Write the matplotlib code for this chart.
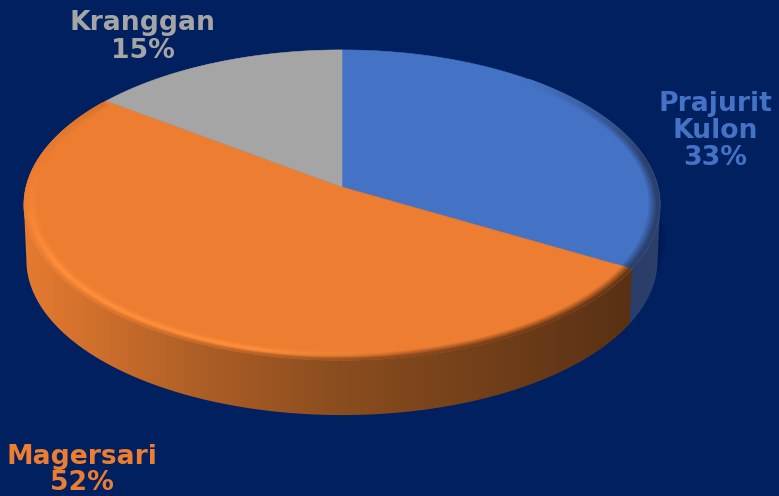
import numpy as np
import matplotlib
matplotlib.use('Agg')
import matplotlib.pyplot as plt
from matplotlib.patches import Polygon
from matplotlib.collections import LineCollection
from matplotlib.colors import to_rgb

categorias = ['Prajurit\nKulon', 'Magersari', 'Kranggan']
valores = [33.4, 51.9, 14.7]
cores = ['#4472C4', '#ED7D31', '#A5A5A5']
fundo = '#002060'

# posicao dos rotulos em pixels
pos_rotulos = [(715, 131), (82, 470), (143, 37)]

# geometria da pizza em pixels
cx, cy = 342, 187
A, B, k = 316, 153, 0.116
altura = 55


def projeta(theta, r=1.0, z=0.0):
    u = np.sin(theta) * r
    v = np.cos(theta) * r
    w = 1 + k * v
    esc = 1 - 0.008 * z / altura
    return cx + A * u / w * esc, cy - B * v / w + z


def mistura(c1, c2, t):
    t = np.asarray(np.clip(t, 0, 1))[..., None]
    return np.asarray(c1) * (1 - t) + np.asarray(c2) * t


def lateral(ax, t0, t1, xs, cs, zorder):
    # lateral com gradiente horizontal recortado pelo contorno
    t = np.linspace(t0, t1, 200)
    x1, y1 = projeta(t)
    x2, y2 = projeta(t[::-1], 1, altura)
    contorno = Polygon(np.c_[np.r_[x1, x2], np.r_[y1, y2]], closed=True,
                       transform=ax.transData, facecolor='none', edgecolor='none')
    ax.add_patch(contorno)
    grade = np.arange(779)
    img = np.stack([np.interp(grade, xs, [c[i] for c in cs]) for i in range(3)], axis=-1)[None, :, :]
    im = ax.imshow(img, extent=(0, 779, 496, 0), aspect='auto', zorder=zorder, interpolation='bilinear')
    im.set_clip_path(contorno)


def anel(ax, t0, t1, funcao_cor, r_min=0.95, passos=16, zorder=4):
    # chanfro: aneis finos do lado de fora para dentro
    ts = np.linspace(t0, t1, 300)
    for j in range(passos, -1, -1):
        s = j / passos
        r = 0.997 - (0.997 - r_min) * s
        x, y = projeta(ts, r)
        pts = np.c_[x, y]
        segs = np.stack([pts[:-1], pts[1:]], axis=1)
        tm = (ts[:-1] + ts[1:]) / 2
        xm = (x[:-1] + x[1:]) / 2
        ax.add_collection(LineCollection(segs, colors=funcao_cor(tm, xm, s), linewidths=1.6,
                                         capstyle='butt', zorder=zorder))


fig = plt.figure(figsize=(7.79, 4.96), dpi=100, facecolor=fundo)
ax = fig.add_axes([0, 0, 1, 1])

total = sum(valores)
limites = np.cumsum([0] + valores) / total * 2 * np.pi

# angulo onde o aro toca o extremo direito (o esquerdo e o espelho)
extremo = np.arccos(-k)

# sombra bem fraca, deslocada para a direita e para baixo
ts = np.linspace(0, 2 * np.pi, 200)
for desl, alfa in [(7, 0.04), (5, 0.05), (3, 0.06)]:
    x, y = projeta(ts, 1.0, altura * 0.6)
    ax.add_patch(Polygon(np.c_[x + desl, y + desl * 0.4], closed=True, facecolor='black', alpha=alfa,
                         edgecolor='none', zorder=1))

# laterais
lateral(ax, extremo, limites[1] + 0.02, [560, 660],
        [(0.15, 0.22, 0.39), (0.17, 0.25, 0.42)], 2)
lateral(ax, limites[1], 2 * np.pi - extremo, [25, 200, 342, 480, 630],
        [(0.90, 0.48, 0.19), (0.68, 0.37, 0.15), (0.54, 0.30, 0.12), (0.45, 0.25, 0.10), (0.35, 0.19, 0.08)], 2.5)

# topo das fatias
for i in range(len(valores)):
    t = np.linspace(limites[i], limites[i + 1], 300)
    x, y = projeta(t)
    pts = np.r_[[(cx, cy)], np.c_[x, y]]
    ax.add_patch(Polygon(pts, closed=True, facecolor=cores[i], edgecolor=cores[i],
                         linewidth=0.4, zorder=3))

azul = np.array(to_rgb(cores[0]))
laranja = np.array(to_rgb(cores[1]))


def chanfro_azul(t, x, s):
    forca = np.clip((t - 0.7) / 0.7, 0, 1) * np.clip((1 - s) * 1.15, 0, 1)
    return mistura(azul, (0.17, 0.25, 0.42), forca)


def chanfro_laranja(t, x, s):
    # borda puxa para a cor da lateral, com brilho do lado esquerdo
    base = np.interp(x, [25, 342, 630], [1.0, 0.62, 0.42])
    borda = laranja[None, :] * base[:, None]
    brilho = np.clip((4.9 - t) / 0.7, 0, 1) * np.clip((t - 2.9) / 0.5, 0, 1)
    forte = np.array([1.0, 0.56, 0.23])
    perfil = np.exp(-((s - 0.4) / 0.3) ** 2) * brilho
    fade = np.clip(s / 0.6, 0, 1)
    cor = mistura(borda, laranja, np.full_like(x, fade))
    return mistura(cor, forte, perfil)


anel(ax, 0.7, limites[1], chanfro_azul, r_min=0.965, zorder=3.5)
anel(ax, limites[1], limites[2] - 0.02, chanfro_laranja)

# rotulos
for nome, valor, cor, pos in zip(categorias, valores, cores, pos_rotulos):
    ax.text(pos[0], pos[1], f'{nome}\n{round(valor)}%', color=cor, fontsize=19.2, fontweight='bold',
            family='DejaVu Sans', ha='center', va='center', linespacing=1.05, zorder=5)

ax.set_xlim(0, 779)
ax.set_ylim(496, 0)
ax.axis('off')

fig.savefig('out.png', dpi=100, facecolor=fundo)
